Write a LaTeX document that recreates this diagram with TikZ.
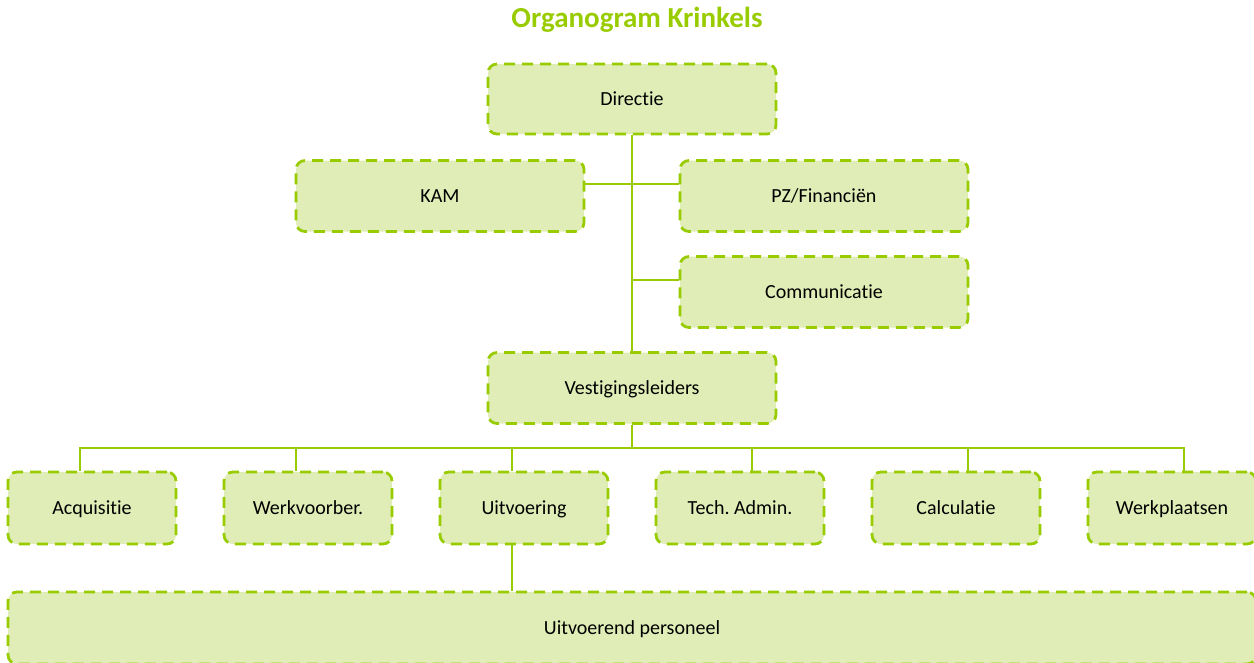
\documentclass[tikz,border=0pt]{standalone}
\usepackage{fontspec}
\setmainfont{Carlito}[Ligatures={NoCommon}]
\frenchspacing
\definecolor{lgreen}{RGB}{153,204,0}
\definecolor{lfill}{RGB}{224,237,182}
\begin{document}
\begin{tikzpicture}[x=1pt,y=-1pt,
  box/.style={draw=lgreen, fill=lfill, line width=2.8pt, dash pattern=on 11pt off 7pt, rounded corners=9pt, font=\fontsize{20}{24}\selectfont, inner sep=0pt, text height=12.8pt, text depth=0pt},
  wide/.style={box, minimum width=288pt, minimum height=71pt},
  small/.style={box, minimum width=168pt, minimum height=72pt},
  conn/.style={draw=lgreen, line width=2pt}]
\useasboundingbox (0,0) rectangle (1254,662);
\node[font=\fontsize{29}{34}\selectfont\bfseries, text=lgreen] (title) at (637,20) {Organogram Krinkels};
\node[wide, minimum height=70pt] (dir) at (632,99) {Directie};
\node[wide] (kam) at (440,196) {KAM};
\node[wide] (pz) at (824,196) {PZ/Financiën};
\node[wide] (com) at (824,292) {Communicatie};
\node[wide] (ves) at (632,388) {Vestigingsleiders};
\node[small] (acq) at (92,508) {Acquisitie};
\node[small] (wvb) at (308,508) {Werkvoorber.};
\node[small] (uit) at (524,508) {Uitvoering};
\node[small] (tec) at (740,508) {Tech.\ Admin.};
\node[small] (cal) at (956,508) {Calculatie};
\node[small] (wpl) at (1172,508) {Werkplaatsen};
\node[box, minimum width=1248pt, minimum height=72pt] (per) at (632,628) {Uitvoerend personeel};
\coordinate (bus) at (632,448);
\draw[conn] (dir.south) -- (ves.north);
\draw[conn] ([yshift=12pt]kam.east) -- ([yshift=12pt]pz.west);
\draw[conn] ([yshift=12pt]com.west) -- ([yshift=12pt]com.west -| dir.south);
\draw[conn] (ves.south) -- (bus);
\draw[conn] (bus) -| ([xshift=-12pt]acq.north);
\draw[conn] (bus) -| ([xshift=-12pt]wvb.north);
\draw[conn] (bus) -| ([xshift=-12pt]uit.north);
\draw[conn] (bus) -| ([xshift=12pt]tec.north);
\draw[conn] (bus) -| ([xshift=12pt]cal.north);
\draw[conn] (bus) -| ([xshift=12pt]wpl.north);
\draw[conn] ([xshift=-12pt]uit.south) -- ([xshift=-12pt]uit.south |- per.north);
\end{tikzpicture}
\end{document}
